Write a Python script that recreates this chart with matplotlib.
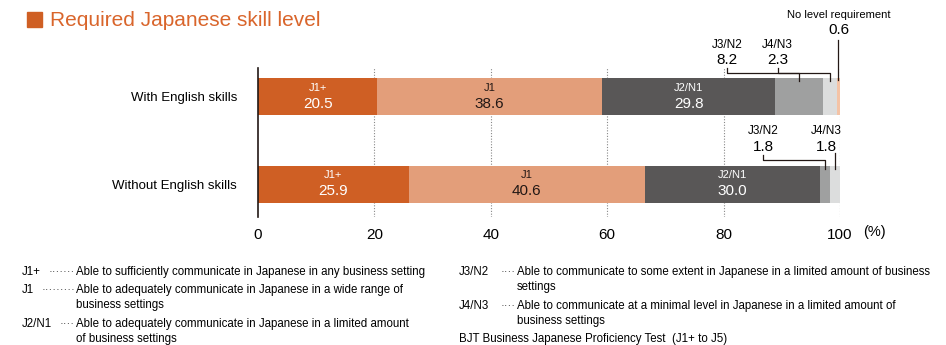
import matplotlib.pyplot as plt
from matplotlib.patches import Rectangle
import numpy as np

plt.rcParams['font.family'] = ['Liberation Sans', 'DejaVu Sans']

# Dane
groups = ["Without English skills", "With English skills"]
levels = ["J1+", "J1", "J2/N1", "J3/N2", "J4/N3", "No level requirement"]
with_english = [20.5, 38.6, 29.8, 8.2, 2.3, 0.6]
without_english = [25.9, 40.6, 30.0, 1.8, 1.8, 0.0]
colors = ["#cf5f24", "#e39e7a", "#595757", "#9fa0a0", "#dcdddd", "#f4c3a6"]
text_colors = ["white", "#231815", "white"]
ticks = [0, 20, 40, 60, 80, 100]

notes_left = [
    ("J1+", "·······", "Able to sufficiently communicate in Japanese in any business setting"),
    ("J1", "·········", "Able to adequately communicate in Japanese in a wide range of\nbusiness settings"),
    ("J2/N1", "····", "Able to adequately communicate in Japanese in a limited amount\nof business settings"),
]
notes_right = [
    ("J3/N2", "····", "Able to communicate to some extent in Japanese in a limited amount of business\nsettings"),
    ("J4/N3", "····", "Able to communicate at a minimal level in Japanese in a limited amount of\nbusiness settings"),
]
source = "BJT Business Japanese Proficiency Test  (J1+ to J5)"

W, H = 946, 345
fig = plt.figure(figsize=(W / 100, H / 100), dpi=100)
ax = fig.add_axes([258 / W, 1 - 217 / H, 582 / W, 149 / H])

bar_h = 0.425
data = [without_english, with_english]
for yi, row in enumerate(data):
    left = 0
    for i, v in enumerate(row):
        if v > 0:
            ax.barh(yi, v, left=left, height=bar_h, color=colors[i], linewidth=0)
        if i < 3:
            cx = left + v / 2
            ax.text(cx, yi + 0.1, levels[i], ha="center", va="center",
                    fontsize=8, color=text_colors[i])
            ax.text(cx, yi - 0.08, f"{v:.1f}", ha="center", va="center",
                    fontsize=11, color=text_colors[i])
        left += v

# środki małych segmentów
def mid(row, i):
    return sum(row[:i]) + row[i] / 2

lw = 0.9
# With English: J3/N2 i J4/N3 z łamaną linią
for i, lx in [(3, 80.6), (4, 89.3)]:
    cx = mid(with_english, i)
    ax.plot([lx, lx, cx, cx], [1.333, 1.276, 1.276, 1.18], color="#231815",
            lw=lw, clip_on=False)
    ax.text(lx, 1.6, levels[i], ha="center", va="center", fontsize=8.5, clip_on=False)
    ax.text(lx, 1.425, f"{with_english[i]:.1f}", ha="center", va="center",
            fontsize=11, clip_on=False)
# No level requirement
cx = mid(with_english, 5)
ax.plot([cx, cx], [1.655, 1.19], color="#231815", lw=lw, clip_on=False)
ax.text(cx + 0.1, 1.94, levels[5], ha="center", va="center", fontsize=8, clip_on=False)
ax.text(cx + 0.1, 1.77, f"{with_english[5]:.1f}", ha="center", va="center",
        fontsize=11, clip_on=False)

# Without English
lx = 86.8
cx = mid(without_english, 3)
ax.plot([lx, lx, cx, cx], [0.333, 0.276, 0.276, 0.17], color="#231815",
        lw=lw, clip_on=False)
ax.text(lx, 0.61, levels[3], ha="center", va="center", fontsize=8.5)
ax.text(lx, 0.425, f"{without_english[3]:.1f}", ha="center", va="center", fontsize=11)
cx = mid(without_english, 4)
ax.plot([cx, cx], [0.36, 0.17], color="#231815", lw=lw, clip_on=False)
ax.text(97.6, 0.61, levels[4], ha="center", va="center", fontsize=8.5)
ax.text(97.6, 0.425, f"{without_english[4]:.1f}", ha="center", va="center", fontsize=11)

ax.set_xlim(0, 100)
ax.set_ylim(-0.379, 1.333)
ax.set_yticks([0, 1])
ax.set_yticklabels(groups, fontsize=9.5)
ax.set_xticks(ticks)
ax.set_xticklabels([str(t) for t in ticks], fontsize=11)
ax.tick_params(length=0, pad=8)
ax.tick_params(axis="y", pad=15)
for t in ticks[1:]:
    ax.axvline(t, color="#888888", lw=0.8, ls=(0, (1, 1.5)), zorder=0)
for s in ["top", "right", "bottom"]:
    ax.spines[s].set_visible(False)
ax.spines["left"].set_color("#231815")
ax.spines["left"].set_linewidth(1.2)
ax.text(106, -0.47, "(%)", ha="center", va="top", fontsize=10.5, clip_on=False)

# Tytuł
fig.patches.append(Rectangle((27 / W, 1 - 27 / H), 15 / W, 15 / H,
                             transform=fig.transFigure, color="#cf5f24"))
fig.text(50 / W, 1 - 20 / H, "Required Japanese skill level", fontsize=15,
         color="#d9652b", va="center", ha="left")

# Objaśnienia
def notes(items, x_lab, x_desc, ys):
    for (lab, dots, desc), y in zip(items, ys):
        fig.text(x_lab / W, 1 - y / H, lab, fontsize=8.3, va="top", ha="left")
        fig.text((x_desc - 1) / W, 1 - y / H, dots, fontsize=8.3, va="top",
                 ha="right", color="#444444")
        fig.text(x_desc / W, 1 - y / H, desc, fontsize=8.3, va="top", ha="left",
                 linespacing=1.38)

notes(notes_left, 22, 76, [266, 284, 318])
notes(notes_right, 459, 517, [266, 300])
fig.text(459 / W, 1 - 333 / H, source, fontsize=8.3, va="top", ha="left")

fig.savefig("out.png", dpi=100)
